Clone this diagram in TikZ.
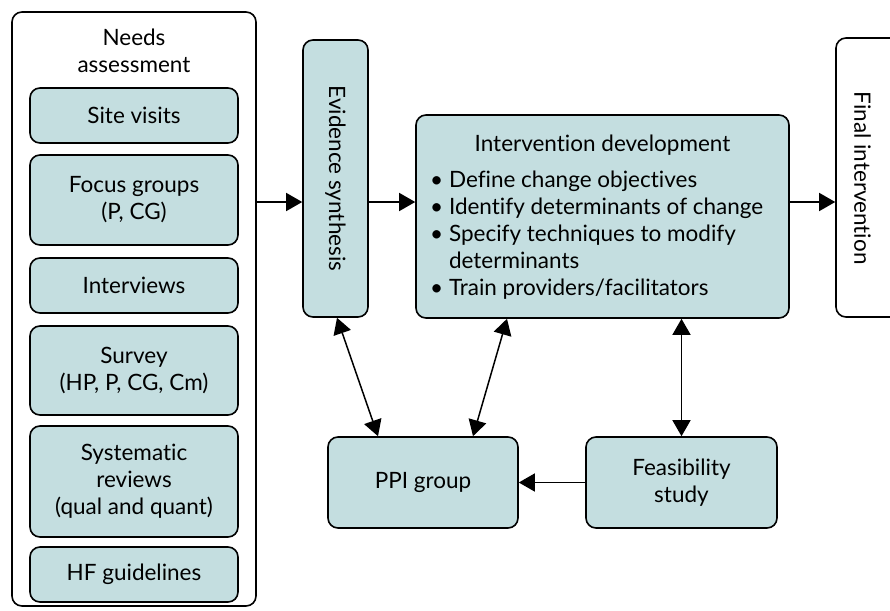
\documentclass[tikz,border=0pt]{standalone}
\usepackage{fontspec}
\setmainfont{Lato}[Ligatures=NoCommon]
\usepackage{tikz}
\usetikzlibrary{arrows.meta}
\definecolor{boxfill}{HTML}{C4DEE0}

\begin{document}
\begin{tikzpicture}[x=1pt, y=-1pt,
    font=\fontsize{22.5}{27}\selectfont,
    box/.style={draw, line width=1.6pt, rounded corners=10pt, fill=boxfill, align=center},
    frame/.style={draw, line width=1.6pt, rounded corners=10pt, fill=white},
    arr/.style={-{Triangle[length=16pt, width=18pt]}, line width=1.5pt},
    biarr/.style={{Triangle[length=16pt, width=18pt]}-{Triangle[length=16pt, width=18pt]}, line width=1.5pt}]
    \clip (0,0) rectangle (890,610);

    % needs assessment column
    \node[frame, minimum width=244, minimum height=594] (needs) at (134,309) {};
    \node[anchor=north, align=center, inner sep=0pt] (needslbl) at (134,28.5) {Needs\\assessment};
    \node[box, minimum width=208, minimum height=55] (site) at (134,115.5) {Site visits};
    \node[box, minimum width=208, minimum height=90] (focus) at (134,200) {Focus groups\\(P, CG)};
    \node[box, minimum width=208, minimum height=55] (intv) at (134,285.5) {Interviews};
    \node[box, minimum width=208, minimum height=89] (survey) at (134,370.5) {Survey\\(HP, P, CG, Cm)};
    \node[box, minimum width=208, minimum height=111] (sysrev) at (134,481.5) {Systematic\\reviews\\(qual and quant)};
    \node[box, minimum width=208, minimum height=55] (hfguide) at (134,574.5) {HF guidelines};

    % evidence and final
    \node[box, minimum width=65, minimum height=277] (evid) at (335.5,178.5) {};
    \node[rotate=-90] (evidlbl) at (evid.center) {Evidence synthesis};
    \node[frame, minimum width=70, minimum height=279] (final) at (871,177.5) {};
    \node[rotate=-90] (finallbl) at (862.5,178) {Final intervention};

    % intervention development
    \node[box, minimum width=373, minimum height=203] (intdev) at (602.5,216.5) {};
    \node (inttitle) at (602.5,145.5) {Intervention development};
    \node[anchor=north west, align=left, inner sep=0pt] (intlist) at (430,171) {%
        \textbullet\ Define change objectives\\
        \textbullet\ Identify determinants of change\\
        \textbullet\ Specify techniques to modify\\
        \phantom{\textbullet\ }determinants\\
        \textbullet\ Train providers/facilitators};

    % bottom row
    \node[box, minimum width=190, minimum height=91] (ppi) at (423,482.5) {PPI group};
    \node[box, minimum width=191, minimum height=91] (feas) at (681.5,482.5) {Feasibility\\study};

    % arrows
    \coordinate (flow) at (0,202);
    \draw[arr] (needs.east |- flow) -- (evid.west |- flow);
    \draw[arr] (evid.east |- flow) -- (intdev.west |- flow);
    \draw[arr] (intdev.east |- flow) -- (final.west |- flow);
    \draw[biarr] ([xshift=1.5]evid.south) -- ([xshift=-45]ppi.north);
    \draw[biarr] ([xshift=-95.5]intdev.south) -- ([xshift=50]ppi.north);
    \draw[biarr] (feas.north |- intdev.south) -- (feas.north);
    \draw[arr] (feas.west) -- (ppi.east);
\end{tikzpicture}
\end{document}
